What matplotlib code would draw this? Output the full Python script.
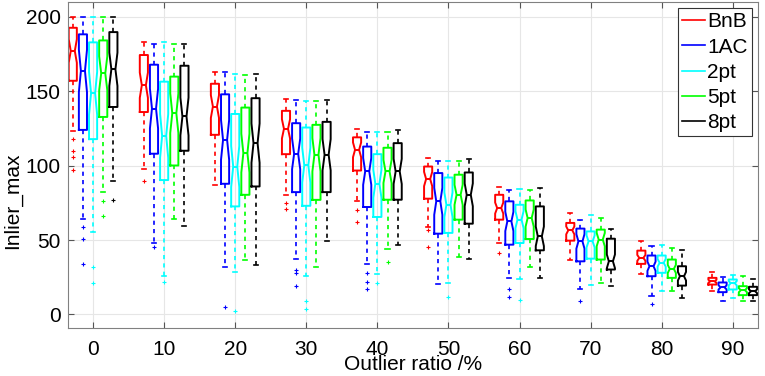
import numpy as np
import matplotlib
matplotlib.use("Agg")
import matplotlib.pyplot as plt
from matplotlib.lines import Line2D

plt.rcParams['font.family'] = ['Liberation Sans', 'DejaVu Sans']

#===== DATA =====
ratios = [0, 10, 20, 30, 40, 50, 60, 70, 80, 90]
methods = ["BnB", "1AC", "2pt", "5pt", "8pt"]
colors = ["#ff0000", "#0000ff", "#00ffff", "#00ff00", "#000000"]
N_SAMPLES = 50   # used for notch size

# per group: (lower whisker, q1, median, q3, upper whisker)
bnb = [(123, 157, 177, 192.6, 200), (97.7, 136, 154, 174.3, 182.8),
       (86.7, 120.7, 139.7, 155, 162.7), (80, 107.7, 124.7, 136.8, 144.8),
       (76.4, 96.7, 110.6, 119, 124.7), (58.8, 77.8, 91, 99.4, 105),
       (48, 63.7, 71.5, 80.4, 85.6), (36.9, 49.6, 56.5, 61.5, 68.2),
       (27.3, 34, 38, 42.9, 49.6), (15.6, 20.1, 22.3, 24.6, 28.4)]
ac1 = [(64, 124, 163.6, 188.2, 200), (48, 108, 138.3, 167.8, 181.5),
       (32, 87.8, 117.3, 147.9, 162.7), (37.3, 82.2, 107.9, 128.5, 144.1),
       (34.2, 72.2, 96.1, 112.8, 122.9), (20.8, 54.3, 76, 95, 102.8),
       (24.6, 46.9, 62.5, 76, 83.8), (16.8, 35.7, 49.1, 57.7, 63.7),
       (12.3, 25.7, 32.4, 39.6, 45.8), (9, 15, 18.2, 21.5, 25.5)]
pt2 = [(55.2, 117.8, 148.6, 182.8, 200), (26.1, 90.3, 120, 156.4, 182.8),
       (28.6, 72.6, 99.4, 134.7, 161.6), (26.1, 73, 100.3, 125.6, 143.6),
       (27, 65.5, 87.8, 107.7, 122.9), (21, 54.8, 73.7, 92, 102.8),
       (23.9, 48, 63.7, 73.7, 84.5), (20.1, 37.5, 49.1, 55.8, 67),
       (15.6, 28, 34.7, 39.6, 46.9), (11.2, 16.8, 21, 23.5, 26.5)]
pt5 = [(82, 132.7, 162, 184.1, 200), (64.1, 100.1, 135.2, 159.8, 181.9),
       (36.9, 80.4, 108.4, 139, 161), (32, 77, 107.3, 127.4, 143.6),
       (44, 77.1, 96.1, 112, 122.9), (38.7, 63.7, 80.4, 93.9, 102.8),
       (32, 50.7, 64.8, 76.6, 83.8), (21.2, 36.9, 50.3, 57, 64.8),
       (15.6, 24.6, 30.6, 36.9, 44.7), (8.9, 13, 16.3, 19, 25.7)]
pt8 = [(89.8, 139.4, 164.7, 189.7, 200), (59.7, 110, 133, 167.1, 182),
       (33, 86, 115.1, 145.3, 161.6), (49.6, 82.2, 107.3, 129.4, 144.1),
       (46.9, 77.1, 96.1, 115.1, 124), (37.3, 61, 80.4, 95.4, 104.4),
       (24.3, 43.1, 52.5, 72.6, 84.9), (19, 30.2, 35.7, 50.9, 57.4),
       (11.2, 19.4, 25.7, 32.4, 43.6), (8.9, 13, 15.6, 18.6, 23.9)]

# outliers per group
bnb_out = [[118, 110, 106, 97], [90], [], [75, 71], [70, 62], [57, 45], [41], [], [], []]
ac1_out = [[59, 51, 34], [45], [5], [30, 28, 19], [28, 22, 17], [], [17, 12], [9], [7], []]
pt2_out = [[32, 21], [22], [2], [9, 4], [21], [12], [10], [], [], []]
pt5_out = [[76, 66], [], [], [], [35], [], [], [], [], []]
pt8_out = [[77], [], [], [], [], [], [], [], [], []]

series = [bnb, ac1, pt2, pt5, pt8]
outliers = [bnb_out, ac1_out, pt2_out, pt5_out, pt8_out]

#===== PLOT =====
fig = plt.figure(figsize=(7.65, 3.76), dpi=100)
ax = fig.add_axes([0.0885, 0.128, 0.9025, 0.867])

GAP = 7  # positions per group (5 boxes + 2 spacer)
for j, (stats, outs, col) in enumerate(zip(series, outliers, colors)):
    bxp_stats = []
    for k, (lo, q1, med, q3, hi) in enumerate(stats):
        half = 1.57 * (q3 - q1) / np.sqrt(N_SAMPLES)
        bxp_stats.append(dict(whislo=lo, q1=q1, med=med, q3=q3, whishi=hi,
                              cilo=med - half, cihi=med + half, fliers=outs[k]))
    pos = [1 + GAP * k + j for k in range(len(ratios))]
    ax.bxp(bxp_stats, positions=pos, widths=0.8, capwidths=0.4,
           shownotches=True, manage_ticks=False,
           boxprops=dict(color=col, lw=1.4),
           medianprops=dict(color=col, lw=1.4),
           whiskerprops=dict(color=col, lw=1.2, ls=(0, (2.5, 2.5))),
           capprops=dict(color=col, lw=1.2),
           flierprops=dict(marker='+', markersize=2.5, markeredgecolor=col,
                           markeredgewidth=0.8, linestyle='none'))

ax.set_xlim(0.5, 68.5)
ax.set_ylim(-9, 210)
ax.set_xticks([3 + GAP * k for k in range(len(ratios))])
ax.set_xticklabels([str(r) for r in ratios])
ax.set_yticks([0, 50, 100, 150, 200])
ax.tick_params(direction='in', top=True, right=True, length=4,
               labelsize=15, color='#555555')
ax.tick_params(axis='x', pad=9)
ax.tick_params(axis='y', pad=5)
ax.grid(True, color='#e6e6e6', lw=0.8)
ax.set_axisbelow(True)
for s in ax.spines.values():
    s.set_color('#808080')

ax.set_xlabel("Outlier ratio /%", fontsize=15, labelpad=-3)
ax.set_ylabel("Inlier_max", fontsize=15)
ax.yaxis.set_label_coords(-0.066, 0.39)

handles = [Line2D([0], [0], color=c, lw=1.2) for c in colors]
leg = ax.legend(handles, methods, loc='upper right', fontsize=15,
                handlelength=1.1, handletextpad=0.1, labelspacing=0.3,
                borderpad=0.2, borderaxespad=0.3, fancybox=False,
                framealpha=1, edgecolor='#333333')
leg.get_frame().set_linewidth(0.8)

fig.savefig("out.png", dpi=100)
